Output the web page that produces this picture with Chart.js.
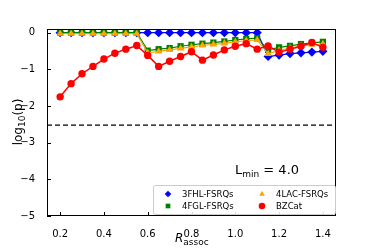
<!DOCTYPE html>
<html>
<head>
<meta charset="utf-8">
<script src="https://cdn.jsdelivr.net/npm/chart.js@4"></script>
<style>
  html, body { margin: 0; padding: 0; background: #fff; }
</style>
</head>
<body>
<canvas id="chart" width="374" height="249"></canvas>
<script>
// R_assoc grid
var rAssoc = [0.2, 0.25, 0.3, 0.35, 0.4, 0.45, 0.5, 0.55, 0.6, 0.65, 0.7, 0.75, 0.8,
  0.85, 0.9, 0.95, 1.0, 1.05, 1.1, 1.15, 1.2, 1.25, 1.3, 1.35, 1.4];

// log10(p) per sample
var fhlFsrq = [0, 0, 0, 0, 0, 0, 0, 0, 0, 0, 0, 0, 0, 0, 0, 0, 0, 0, 0,
  -0.65, -0.61, -0.57, -0.55, -0.53, -0.51];
var fglFsrq = [0, 0, 0, 0, 0, 0, 0, 0,
  -0.49, -0.45, -0.42, -0.37, -0.33, -0.30, -0.27, -0.24, -0.20, -0.17, -0.15,
  -0.47, -0.40, -0.36, -0.31, -0.28, -0.25];
var lacFsrq = [-0.03, -0.03, -0.03, -0.03, -0.03, -0.03, -0.03, -0.03,
  -0.55, -0.51, -0.47, -0.43, -0.39, -0.35, -0.32, -0.29, -0.25, -0.22, -0.20,
  -0.58, -0.48, -0.42, -0.36, -0.33, -0.31];
var bzcat = [-1.75, -1.39, -1.12, -0.92, -0.72, -0.56, -0.45, -0.35,
  -0.62, -0.92, -0.78, -0.65, -0.52, -0.75, -0.61, -0.47, -0.37, -0.30, -0.45,
  -0.36, -0.53, -0.45, -0.37, -0.27, -0.40];

var xTicks = [0.2, 0.4, 0.6, 0.8, 1.0, 1.2, 1.4];
var yTicks = [0, -1, -2, -3, -4, -5];
var threshold = -2.52;
var lminText = "4.0";

function pts(ys) {
  return rAssoc.map((x, i) => ({ x: x, y: ys[i] }));
}

function series(label, ys, color, style, radius, lw, order) {
  return {
    label: label,
    data: pts(ys),
    showLine: true,
    borderColor: color,
    backgroundColor: color,
    borderWidth: lw,
    pointStyle: style,
    pointRadius: radius,
    pointBorderWidth: 0,
    pointHoverRadius: radius,
    order: order,
  };
}

var datasets = [
  series("3FHL-FSRQs", fhlFsrq, "#0000ff", "rectRot", 4.6, 1.2, 4),
  series("4FGL-FSRQs", fglFsrq, "#008000", "rect", 4.4, 1.2, 3),
  series("4LAC-FSRQs", lacFsrq, "#ffa500", "triangle", 4.2, 1.2, 2),
  series("BZCat", bzcat, "#ff0000", "circle", 3.7, 1.5, 1),
];

var font = "DejaVu Sans";

var decor = {
  id: "decor",
  beforeDatasetsDraw: (chart) => {
    var ctx = chart.ctx, a = chart.chartArea, y = chart.scales.y;
    var py = y.getPixelForValue(threshold);
    ctx.save();
    ctx.strokeStyle = "#000";
    ctx.lineWidth = 1.3;
    ctx.setLineDash([5, 3]);
    ctx.beginPath();
    ctx.moveTo(a.left, py);
    ctx.lineTo(a.right, py);
    ctx.stroke();
    ctx.restore();
  },
  afterDraw: (chart) => {
    var ctx = chart.ctx, a = chart.chartArea;
    var xs = chart.scales.x, ys = chart.scales.y;
    ctx.save();
    // frame
    ctx.strokeStyle = "#000";
    ctx.lineWidth = 1;
    ctx.strokeRect(a.left + 0.5, a.top + 0.5, a.right - a.left - 1, a.bottom - a.top - 1);
    // inward ticks
    ctx.beginPath();
    xTicks.forEach((v) => {
      var px = Math.round(xs.getPixelForValue(v)) + 0.5;
      ctx.moveTo(px, a.bottom);
      ctx.lineTo(px, a.bottom - 4);
    });
    yTicks.forEach((v) => {
      var py = Math.round(ys.getPixelForValue(v)) + 0.5;
      ctx.moveTo(a.left, py);
      ctx.lineTo(a.left + 4, py);
    });
    ctx.stroke();

    ctx.fillStyle = "#000";
    ctx.textBaseline = "alphabetic";
    // L_min label
    ctx.textAlign = "left";
    var lx = 235, ly = 174;
    ctx.font = "13px " + font;
    ctx.fillText("L", lx, ly);
    var w = ctx.measureText("L").width;
    ctx.font = "9px " + font;
    ctx.fillText("min", lx + w, ly + 3);
    w += ctx.measureText("min").width;
    ctx.font = "13px " + font;
    ctx.fillText(" = " + lminText, lx + w, ly);

    // x title
    ctx.font = "italic 12px " + font;
    var rx = 175, ry = 242;
    ctx.fillText("R", rx, ry);
    var rw = ctx.measureText("R").width;
    ctx.font = "9px " + font;
    ctx.fillText("assoc", rx + rw, ry + 3);

    // y title
    ctx.translate(22, 122);
    ctx.rotate(-Math.PI / 2);
    ctx.font = "12px " + font;
    var p1 = "log", p2 = "10", p3 = "(p)";
    var w1 = ctx.measureText(p1).width, w3 = ctx.measureText(p3).width;
    ctx.font = "9px " + font;
    var w2 = ctx.measureText(p2).width;
    var sx = -(w1 + w2 + w3) / 2;
    ctx.font = "12px " + font;
    ctx.fillText(p1, sx, 0);
    ctx.font = "9px " + font;
    ctx.fillText(p2, sx + w1, 3);
    ctx.font = "12px " + font;
    ctx.fillText(p3, sx + w1 + w2, 0);
    ctx.restore();

    // legend
    ctx.save();
    var bx = 153, by = 185, bw = 182, bh = 29;
    ctx.fillStyle = "rgba(255,255,255,0.85)";
    ctx.strokeStyle = "#cccccc";
    ctx.lineWidth = 1;
    ctx.beginPath();
    ctx.roundRect(bx + 0.5, by + 0.5, bw, bh, 2);
    ctx.fill();
    ctx.stroke();
    var cells = [
      [0, 168, 194], [1, 168, 206], [2, 262, 194], [3, 262, 206],
    ];
    ctx.font = "8.5px " + font;
    ctx.textBaseline = "middle";
    ctx.textAlign = "left";
    cells.forEach((c) => {
      var ds = chart.data.datasets[c[0]];
      ctx.fillStyle = ds.backgroundColor;
      Chart.helpers.drawPoint(ctx, {
        pointStyle: ds.pointStyle, radius: 3.3, borderWidth: 0, rotation: 0,
      }, c[1], c[2]);
      ctx.fillStyle = "#000";
      ctx.fillText(ds.label, c[1] + 14, c[2] + 0.5);
    });
    ctx.restore();
  },
};

new Chart("chart", {
  type: "scatter",
  data: { datasets: datasets },
  plugins: [decor],
  options: {
    responsive: false,
    animation: false,
    devicePixelRatio: 1,
    layout: { padding: { left: 0, right: 38, top: 29, bottom: 0 } },
    plugins: { legend: { display: false }, tooltip: { enabled: false } },
    scales: {
      x: {
        type: "linear",
        min: 0.14,
        max: 1.46,
        afterBuildTicks: (s) => { s.ticks = xTicks.map((v) => ({ value: v })); },
        afterFit: (s) => { s.height = 33; },
        grid: { display: false },
        border: { display: false },
        ticks: {
          color: "#000",
          padding: 4,
          maxRotation: 0,
          font: { family: font, size: 10 },
          callback: (v) => v.toFixed(1),
        },
      },
      y: {
        type: "linear",
        min: -5,
        max: 0.1,
        afterBuildTicks: (s) => { s.ticks = yTicks.map((v) => ({ value: v })); },
        afterFit: (s) => { s.width = 47; },
        grid: { display: false },
        border: { display: false },
        ticks: {
          color: "#000",
          padding: 4,
          font: { family: font, size: 10 },
          callback: (v) => (v < 0 ? "\u2212" + Math.abs(v) : String(v)),
        },
      },
    },
  },
});
</script>
</body>
</html>
